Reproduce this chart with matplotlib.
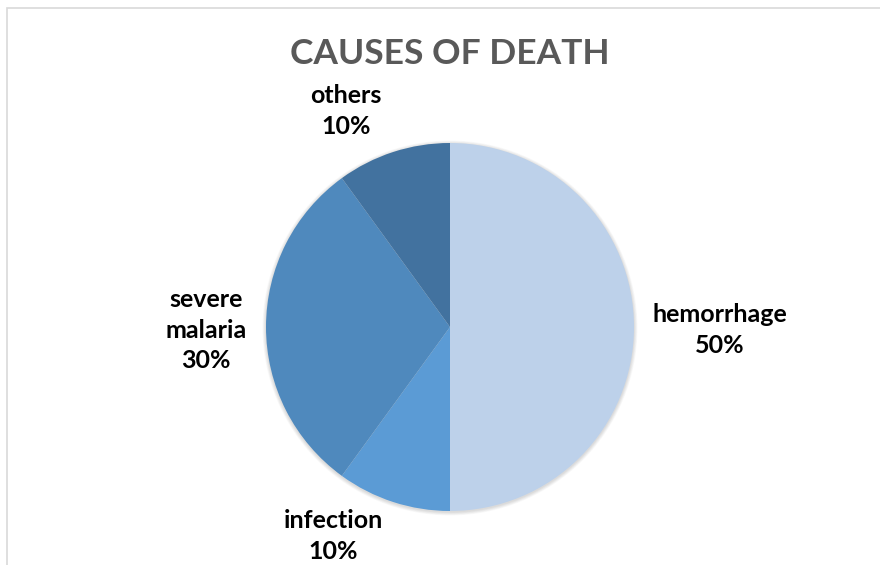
import matplotlib.pyplot as plt
from matplotlib.patches import Circle

# causes of death, share in percent (clockwise from 12 o'clock)
causes = ["hemorrhage", "infection", "severe\nmalaria", "others"]
shares = [50, 10, 30, 10]
colors = ["#BDD1EA", "#5B9BD5", "#4F89BD", "#42729F"]

# label anchor points in pixel coords (x, y from top)
label_pos = [(720, 330), (333, 536), (206, 330), (346, 111)]

W, H = 880, 565
fig = plt.figure(figsize=(W / 100, H / 100), dpi=100)
ax = fig.add_axes([0, 0, 1, 1])

cx, cy, r = 450, H - 327, 184

# soft shadow round the pie
for i in range(6):
    ax.add_patch(Circle((cx, cy - 1), r + 0.6 * i + 0.5, color="#000000",
                        alpha=0.025, lw=0, zorder=1))

wedges, _ = ax.pie(shares, colors=colors, startangle=90, counterclock=False,
                   center=(cx, cy), radius=r, frame=True,
                   wedgeprops=dict(linewidth=0, zorder=2))
ax.set_xlim(0, W)
ax.set_ylim(0, H)
ax.set_aspect("equal")
ax.axis("off")

for name, val, (lx, ly) in zip(causes, shares, label_pos):
    ax.text(lx, H - ly, f"{name}\n{val}%", ha="center", va="center",
            fontsize=18, fontweight="bold", family="Lato", color="black",
            linespacing=1.42)

ax.text(450, H - 64, "CAUSES OF DEATH", ha="center", va="baseline",
        fontsize=25.5, fontweight="bold", family="Lato", color="#595959")

# chart area border (only left and top edges fall inside the image)
ax.plot([6.5, 6.5, W], [0, H - 7.5, H - 7.5], color="#D9D9D9", lw=1.2,
        solid_joinstyle="miter")

fig.savefig("out.png", dpi=100)
